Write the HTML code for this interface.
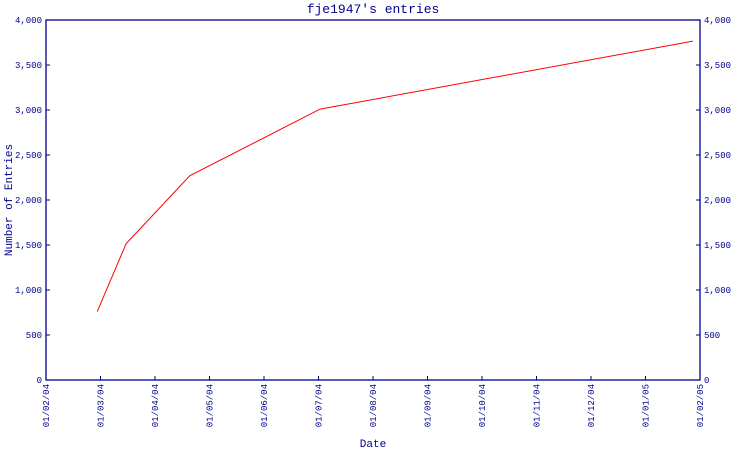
<!DOCTYPE html>
<html><head><meta charset="utf-8"><style>
html,body{margin:0;padding:0;background:#fff;}
svg text{font-family:"Liberation Mono","DejaVu Sans Mono",monospace;fill:#00008b;}
</style></head><body>
<svg id="chart" width="750" height="450" xmlns="http://www.w3.org/2000/svg">
<text x="373" y="13" font-size="13" text-anchor="middle">fje1947's entries</text>
<text x="0" y="0" font-size="11" text-anchor="middle" transform="translate(12,200) rotate(-90)">Number of Entries</text>
<text x="373" y="447" font-size="11" text-anchor="middle">Date</text>
<g id="axes"></g>
<g id="series"></g>
</svg>
<script>
const xLabels = ["01/02/04","01/03/04","01/04/04","01/05/04","01/06/04","01/07/04","01/08/04","01/09/04","01/10/04","01/11/04","01/12/04","01/01/05","01/02/05"];
const yTicks = [0,500,1000,1500,2000,2500,3000,3500,4000];
const yTickLabels = ["0","500","1,000","1,500","2,000","2,500","3,000","3,500","4,000"];
const pointMonths = [0.94, 1.47, 2.64, 5.03, 11.87];
const pointValues = [760, 1515, 2270, 3010, 3765];

const NS="http://www.w3.org/2000/svg";
const L=46,R=700,T=20,B=380,yMax=4000,xMax=12;
const xs=m=>L+(R-L)*m/xMax;
const ys=v=>B-(B-T)*v/yMax;
function mk(tag,attrs,parent){const e=document.createElementNS(NS,tag);for(const k in attrs)e.setAttribute(k,attrs[k]);parent.appendChild(e);return e;}
const ax=document.getElementById('axes');
const frame=mk('rect',{x:L,y:T,width:R-L,height:B-T,fill:'none',stroke:'#00008b','stroke-width':1.3},ax);


yTicks.forEach((v,i)=>{
  const y=ys(v);
  const t1=mk('line',{x1:L,x2:L+4,y1:y,y2:y,stroke:'#00008b'},ax);
  
  
  const t2=mk('line',{x1:R-4,x2:R,y1:y,y2:y,stroke:'#00008b'},ax);
  
  
  const a=mk('text',{x:L-4,y:y+3,'font-size':9,'text-anchor':'end'},ax);a.textContent=yTickLabels[i];
  
  
  const b=mk('text',{x:R+4,y:y+3,'font-size':9,'text-anchor':'start'},ax);b.textContent=yTickLabels[i];
  
  
});
xLabels.forEach((lab,i)=>{
  const x=xs(i);
  const t=mk('line',{x1:x,x2:x,y1:B-4,y2:B,stroke:'#00008b'},ax);
  
  
  const tx=mk('text',{x:0,y:0,'font-size':9,'text-anchor':'end',transform:`translate(${x+3},${B+4}) rotate(-90)`},ax);
  tx.textContent=lab;
  
  
});
const s=document.getElementById('series');
const pl=mk('polyline',{points:pointMonths.map((m,i)=>xs(m)+','+ys(pointValues[i])).join(' '),fill:'none',stroke:'#ff0000','stroke-width':1},s);


</script>
</body></html>
